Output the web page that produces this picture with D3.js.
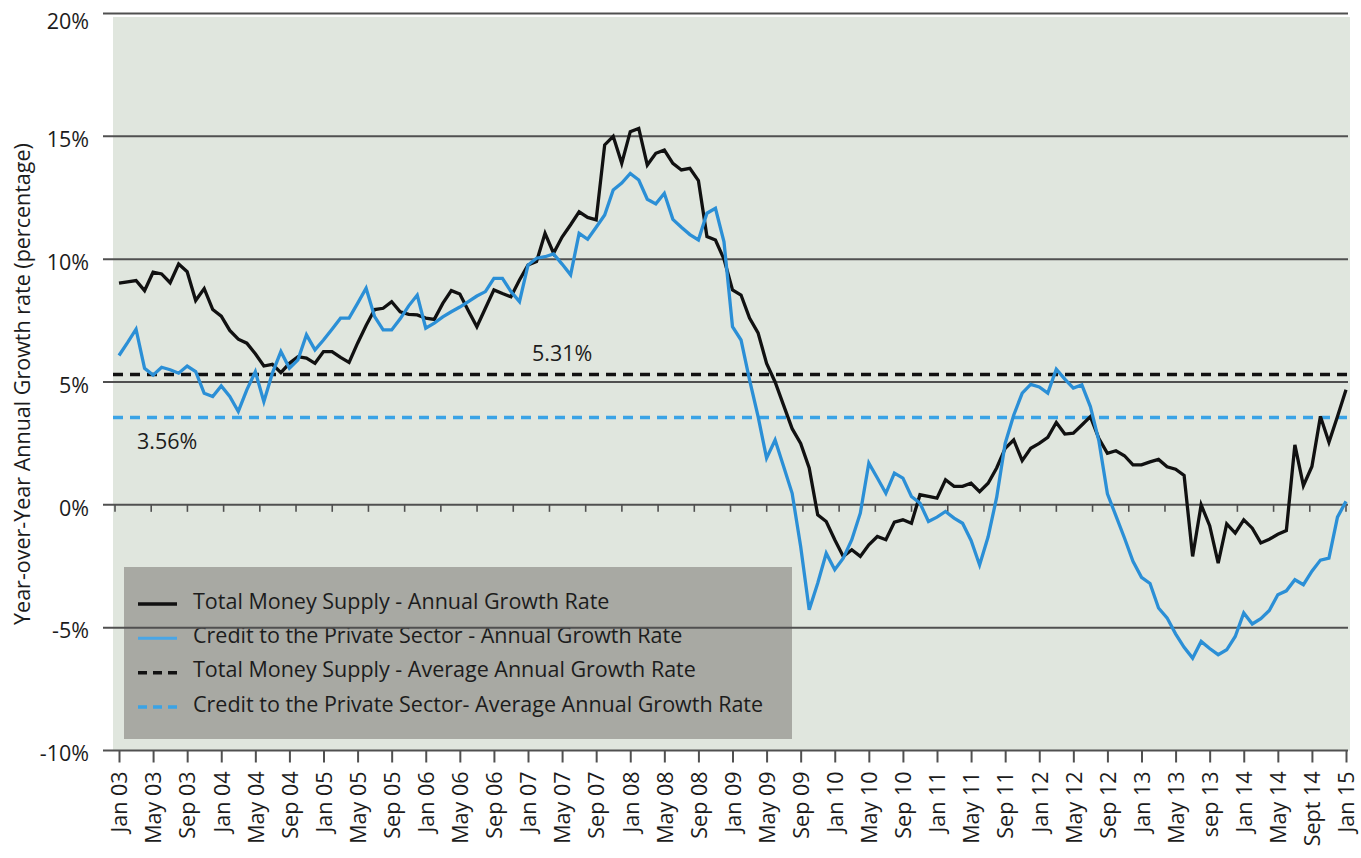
<!DOCTYPE html>
<html>
<head>
<meta charset="utf-8">
<script src="https://cdn.jsdelivr.net/npm/d3@7"></script>
<style>
  body { margin: 0; background: #ffffff; }
  svg { display: block; }
  text { font-family: "Open Sans", "Noto Sans", sans-serif; fill: #1c1c1c; }
</style>
</head>
<body>
<svg id="chart" width="1361" height="858"></svg>
<script>
// ---------- data ----------
const tickLabels = ["Jan 03","May 03","Sep 03","Jan 04","May 04","Sep 04","Jan 05","May 05","Sep 05",
  "Jan 06","May 06","Sep 06","Jan 07","May 07","Sep 07","Jan 08","May 08","Sep 08","Jan 09","May 09",
  "Sep 09","Jan 10","May 10","Sep 10","Jan 11","May 11","Sep 11","Jan 12","May 12","Sep 12","Jan 13",
  "May 13","sep 13","Jan 14","May 14","Sept 14","Jan 15"];
const tickStepMonths = 4;

const yTicks = [-10, -5, 0, 5, 10, 15, 20];

// Monthly, Jan 2003 .. Jan 2015 (145 values)
const moneySupply = [
  9.02, 9.08, 9.13, 8.72, 9.47, 9.40, 9.04, 9.80, 9.49, 8.32, 8.80, 7.95,
  7.68, 7.10, 6.74, 6.58, 6.15, 5.65, 5.72, 5.38, 5.76, 6.03, 5.97, 5.76,
  6.24, 6.24, 6.00, 5.80, 6.58, 7.30, 7.95, 8.00, 8.27, 7.86, 7.75, 7.73,
  7.60, 7.55, 8.20, 8.72, 8.58, 7.90, 7.25, 8.00, 8.75, 8.60, 8.47, 9.15,
  9.76, 9.90, 11.05, 10.24, 10.90, 11.40, 11.93, 11.70, 11.60, 14.65, 15.00, 13.90,
  15.19, 15.32, 13.83, 14.31, 14.44, 13.90, 13.63, 13.70, 13.20, 10.92, 10.78, 10.00,
  8.75, 8.54, 7.60, 7.00, 5.76, 5.00, 4.05, 3.10, 2.50, 1.50, -0.41, -0.68,
  -1.42, -2.10, -1.83, -2.10, -1.63, -1.29, -1.42, -0.70, -0.61, -0.75, 0.41, 0.34,
  0.27, 1.02, 0.75, 0.75, 0.88, 0.54, 0.88, 1.50, 2.30, 2.64, 1.80, 2.30,
  2.50, 2.75, 3.35, 2.88, 2.92, 3.25, 3.59, 2.70, 2.10, 2.20, 2.00, 1.63,
  1.63, 1.75, 1.85, 1.55, 1.45, 1.20, -2.10, 0.00, -0.85, -2.37, -0.78, -1.15,
  -0.61, -0.95, -1.55, -1.40, -1.20, -1.05, 2.44, 0.78, 1.56, 3.60, 2.55, 3.60,
  4.68
];
const privateCredit = [
  6.08, 6.60, 7.15, 5.56, 5.28, 5.60, 5.50, 5.36, 5.65, 5.42, 4.54, 4.41,
  4.84, 4.41, 3.80, 4.68, 5.42, 4.20, 5.36, 6.24, 5.56, 5.90, 6.92, 6.31,
  6.71, 7.15, 7.60, 7.60, 8.20, 8.82, 7.66, 7.12, 7.12, 7.57, 8.10, 8.54,
  7.19, 7.40, 7.65, 7.86, 8.05, 8.27, 8.50, 8.68, 9.22, 9.22, 8.68, 8.27,
  9.76, 10.04, 10.10, 10.21, 9.80, 9.36, 11.05, 10.81, 11.30, 11.80, 12.82, 13.10,
  13.49, 13.22, 12.44, 12.25, 12.68, 11.62, 11.30, 11.00, 10.78, 11.87, 12.07, 10.71,
  7.25, 6.71, 5.09, 3.60, 1.90, 2.64, 1.56, 0.47, -1.70, -4.27, -3.19, -1.97,
  -2.64, -2.17, -1.42, -0.34, 1.70, 1.09, 0.47, 1.29, 1.09, 0.34, 0.07, -0.68,
  -0.50, -0.27, -0.54, -0.75, -1.45, -2.45, -1.30, 0.30, 2.50, 3.65, 4.55, 4.90,
  4.80, 4.55, 5.52, 5.12, 4.75, 4.88, 4.00, 2.60, 0.45, -0.45, -1.35, -2.30,
  -2.95, -3.20, -4.20, -4.60, -5.25, -5.80, -6.24, -5.56, -5.85, -6.10, -5.90, -5.36,
  -4.40, -4.85, -4.63, -4.30, -3.66, -3.50, -3.05, -3.25, -2.70, -2.25, -2.17, -0.50,
  0.14
];

const avgMoneySupply = 5.31;
const avgCredit = 3.56;
const avgLabels = ["5.31%", "3.56%"];

const legendLabels = [
  "Total Money Supply - Annual Growth Rate",
  "Credit to the Private Sector - Annual Growth Rate",
  "Total Money Supply - Average Annual Growth Rate",
  "Credit to the Private Sector- Average Annual Growth Rate"
];
const yTitle = "Year-over-Year Annual Growth rate (percentage)";

// ---------- styles ----------
const BLACK = "#111111";
const BLUE = "#2b8fd6";
const BLUE_DASH = "#3aa3e6";
const GRID = "#505050";
const BG = "#e0e6de";
const LEGEND_BG = "#a8a9a3";
const FS = 21.5;

// ---------- layout ----------
const svg = d3.select("#chart");
const nMonths = moneySupply.length;
const x = d3.scaleLinear().domain([0, nMonths - 1]).range([119, 1346]);
const y = d3.scaleLinear().domain([-10, 20]).range([750.5, 13.5]);
const plotLeft = 113, plotRight = 1350;
const gridLeft = 103, gridRight = 1348;

// background
svg.append("rect")
  .attr("x", plotLeft).attr("y", y(20) + 3.5)
  .attr("width", plotRight - plotLeft).attr("height", y(-10) - y(20) - 3.5)
  .attr("fill", BG);

// legend box (under gridlines)
const legend = svg.append("g");
legend.append("rect")
  .attr("x", 124).attr("y", 567).attr("width", 668).attr("height", 172)
  .attr("fill", LEGEND_BG);

// gridlines
svg.append("g").selectAll("line").data(yTicks).join("line")
  .attr("x1", gridLeft).attr("x2", gridRight)
  .attr("y1", d => y(d)).attr("y2", d => y(d))
  .attr("stroke", GRID).attr("stroke-width", 2);

// y tick labels
svg.append("g").selectAll("text").data(yTicks).join("text")
  .attr("x", 89)
  .attr("y", d => Math.max(y(d) + 3, 21))
  .attr("dy", "0.36em")
  .attr("text-anchor", "end")
  .style("font-size", FS + "px")
  .text(d => d + "%");

// small ticks hanging below the 0% line
const zeroTicks = d3.range(35);
const zx = d3.scaleLinear().domain([0, 34]).range([115, 1346]);
svg.append("g").selectAll("line").data(zeroTicks).join("line")
  .attr("x1", d => zx(d)).attr("x2", d => zx(d))
  .attr("y1", y(0)).attr("y2", y(0) + 7)
  .attr("stroke", GRID).attr("stroke-width", 1.6);

// bottom axis
const xAxis = d3.axisBottom(x)
  .tickValues(d3.range(0, nMonths, tickStepMonths))
  .tickFormat((d, i) => tickLabels[i])
  .tickSize(12)
  .tickSizeOuter(0);
const gx = svg.append("g").attr("transform", `translate(0,${y(-10)})`).call(xAxis);
gx.select(".domain").remove();
gx.selectAll(".tick line").attr("stroke", GRID).attr("stroke-width", 2);
gx.selectAll(".tick text")
  .attr("transform", "rotate(-90)")
  .attr("text-anchor", "end")
  .attr("x", -21).attr("y", 0).attr("dy", "0.36em")
  .style("font-size", FS + "px")
  .style("font-family", '"Open Sans", sans-serif')
  .attr("fill", "#1c1c1c");

// average dashed lines
svg.append("line")
  .attr("x1", plotLeft).attr("x2", plotRight)
  .attr("y1", y(avgMoneySupply)).attr("y2", y(avgMoneySupply))
  .attr("stroke", BLACK).attr("stroke-width", 3.5).attr("stroke-dasharray", "10,7");
svg.append("line")
  .attr("x1", plotLeft).attr("x2", plotRight)
  .attr("y1", y(avgCredit)).attr("y2", y(avgCredit))
  .attr("stroke", BLUE_DASH).attr("stroke-width", 3.5).attr("stroke-dasharray", "10,7");

// average labels
svg.append("text").attr("x", 532).attr("y", y(avgMoneySupply) - 21).attr("dy", "0.36em")
  .style("font-size", FS + "px").text(avgLabels[0]);
svg.append("text").attr("x", 137).attr("y", y(avgCredit) + 24).attr("dy", "0.36em")
  .style("font-size", FS + "px").text(avgLabels[1]);

// data lines
const line = d3.line().x((d, i) => x(i)).y(d => y(d));
svg.append("path").datum(moneySupply).attr("d", line)
  .attr("fill", "none").attr("stroke", BLACK).attr("stroke-width", 3.3).attr("stroke-linejoin", "miter");
svg.append("path").datum(privateCredit).attr("d", line)
  .attr("fill", "none").attr("stroke", BLUE).attr("stroke-width", 3.3).attr("stroke-linejoin", "miter");

// legend entries
const legendStyles = [
  { color: BLACK, width: 3.5, dash: null },
  { color: "#4aa6e6", width: 3, dash: null },
  { color: BLACK, width: 3.5, dash: "9,6" },
  { color: BLUE_DASH, width: 3.5, dash: "9,6" }
];
const rowY = d3.scaleLinear().domain([0, 3]).range([601, 704]);
const rows = legend.selectAll("g.row").data(legendLabels).join("g").attr("class", "row");
rows.append("line")
  .attr("x1", 138).attr("x2", 177)
  .attr("y1", (d, i) => rowY(i) + 3).attr("y2", (d, i) => rowY(i) + 3)
  .attr("stroke", (d, i) => legendStyles[i].color)
  .attr("stroke-width", (d, i) => legendStyles[i].width)
  .attr("stroke-dasharray", (d, i) => legendStyles[i].dash);
rows.append("text")
  .attr("x", 193).attr("y", (d, i) => rowY(i)).attr("dy", "0.36em")
  .style("font-size", FS + "px")
  .text(d => d);

// y axis title
svg.append("text")
  .attr("transform", `translate(22,${384}) rotate(-90)`)
  .attr("text-anchor", "middle").attr("dy", "0.36em")
  .style("font-size", FS + "px")
  .text(yTitle);
</script>
</body>
</html>
